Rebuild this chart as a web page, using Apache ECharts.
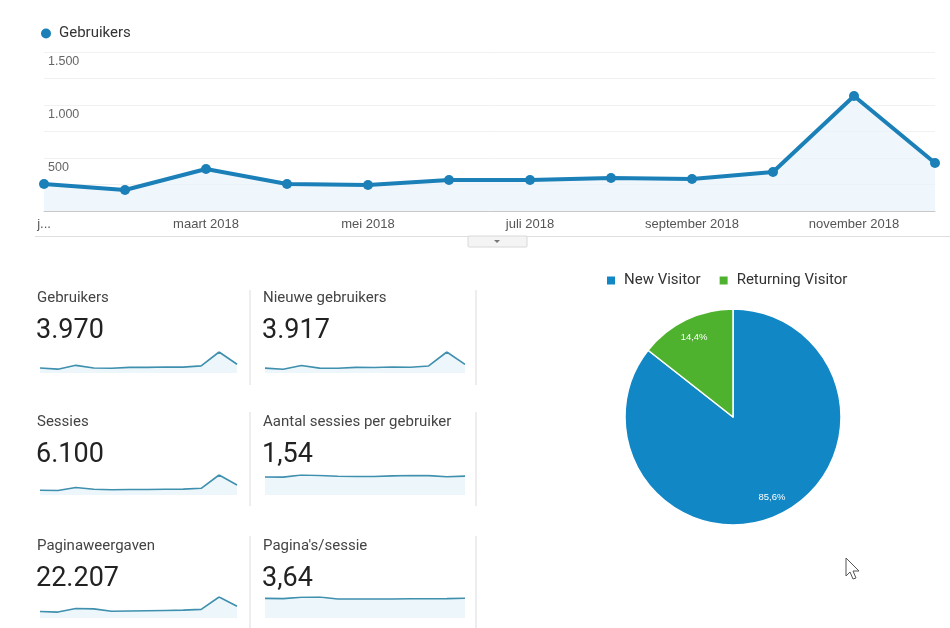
<!DOCTYPE html>
<html>
<head>
<meta charset="utf-8">
<script src="https://cdn.jsdelivr.net/npm/echarts@6/dist/echarts.min.js"></script>
<style>
html,body{margin:0;padding:0;background:#fff;}
#c{width:950px;height:628px;}
</style>
</head>
<body>
<div id="c"></div>
<script>
// ---- data ----
const months = ['jan 2018','feb 2018','maart 2018','april 2018','mei 2018','juni 2018','juli 2018','aug 2018','september 2018','okt 2018','november 2018','dec 2018'];
const xTickLabels = ['j...','','maart 2018','','mei 2018','','juli 2018','','september 2018','','november 2018',''];
const yTicks = [500, 1000, 1500];
const gebruikers = [255, 198, 396, 255, 245, 292, 292, 311, 302, 368, 1085, 453];
const nieuweGebruikers = [250, 193, 388, 250, 241, 287, 286, 305, 296, 360, 1078, 443];
const sessies = [330, 320, 520, 400, 370, 390, 390, 400, 410, 470, 1400, 700];
const sessiesPerGebruiker = [1.46, 1.45, 1.62, 1.58, 1.52, 1.50, 1.50, 1.55, 1.58, 1.57, 1.48, 1.53];
const paginaweergaven = [1320, 1210, 1930, 1870, 1380, 1430, 1480, 1540, 1600, 1760, 4290, 2400];
const paginasPerSessie = [3.55, 3.50, 3.75, 3.80, 3.45, 3.45, 3.45, 3.45, 3.47, 3.47, 3.50, 3.58];
const cardTitles = ['Gebruikers','Nieuwe gebruikers','Sessies','Aantal sessies per gebruiker','Paginaweergaven',"Pagina's/sessie"];
const cardValues = ['3.970','3.917','6.100','1,54','22.207','3,64'];
const visitorTypes = ['New Visitor','Returning Visitor'];
const visitorShares = [85.6, 14.4];

// ---- layout ----
const sparkData = [gebruikers, nieuweGebruikers, sessies, sessiesPerGebruiker, paginaweergaven, paginasPerSessie];
const colLeft = [37, 263];
const sparkLeft = [40, 265];
const sparkWidth = [197, 200];
const rowTitleTop = [291, 415, 539];
const rowValueTop = [318, 442, 566];
const sparkTop = [352, 475, 597];
const sparkH = [21, 20, 21];

const blue = '#1b7fb8';
const fmtNum = v => String(v).replace(/\B(?=(\d{3})+(?!\d))/g, '.');

const chart = echarts.init(document.getElementById('c'));

const grids = [{left: 44, right: 15, top: 52, height: 159}];
const xAxes = [{
  gridIndex: 0, type: 'category', data: months, boundaryGap: false,
  axisLine: {show: true, lineStyle: {color: '#c8c8c8'}},
  axisTick: {show: false},
  axisLabel: {interval: 0, margin: 7, fontSize: 13, color: '#555', fontFamily: 'Liberation Sans, Arial',
    formatter: (v, i) => xTickLabels[i]}
}];
const yAxes = [{
  gridIndex: 0, type: 'value', min: 0, max: 1500, interval: 250,
  axisLine: {show: false}, axisTick: {show: false},
  splitLine: {lineStyle: {color: '#f1f1f1'}},
  axisLabel: {inside: true, margin: 4, fontSize: 12.5, color: '#666', verticalAlign: 'top', padding: [3,0,0,0],
    fontFamily: 'Liberation Sans, Arial',
    formatter: v => yTicks.indexOf(v) >= 0 ? fmtNum(v) : ''}
}];
const series = [{
  name: 'Gebruikers', type: 'line', xAxisIndex: 0, yAxisIndex: 0, data: gebruikers,
  symbol: 'circle', symbolSize: 10, lineStyle: {width: 4, color: blue},
  itemStyle: {color: blue}, areaStyle: {color: '#e9f4fb'}, silent: true
}];
const titles = [];
const graphics = [];

for (let i = 0; i < 6; i++) {
  const row = Math.floor(i / 2), col = i % 2;
  const gi = i + 1;
  grids.push({left: sparkLeft[col], width: sparkWidth[col], top: sparkTop[row], height: sparkH[row]});
  xAxes.push({gridIndex: gi, type: 'category', data: months, boundaryGap: false, show: false});
  yAxes.push({gridIndex: gi, type: 'value', min: 0, max: 'dataMax', show: false, splitLine: {show: false}});
  series.push({
    name: cardTitles[i] + ' ', type: 'line', xAxisIndex: gi, yAxisIndex: gi, data: sparkData[i],
    symbol: 'none', lineStyle: {width: 1.6, color: '#3f8fae'}, areaStyle: {color: '#e6f3fa'}, silent: true
  });
  titles.push({text: cardTitles[i], left: colLeft[col], top: rowTitleTop[row], padding: 0,
    textStyle: {fontSize: 15, fontWeight: 'normal', color: '#444', fontFamily: 'Roboto'}});
  titles.push({text: cardValues[i], left: colLeft[col] - 1, top: rowValueTop[row], padding: 0,
    textStyle: {fontSize: 27, fontWeight: 'normal', color: '#222', fontFamily: 'Roboto'}});
}

// separators
const sepRanges = [[290, 385], [412, 506], [536, 628]];
sepRanges.forEach(r => {
  [250, 476].forEach(x => graphics.push({type: 'line', shape: {x1: x, y1: r[0], x2: x, y2: r[1]},
    style: {stroke: '#dcdcdc', lineWidth: 1}, silent: true}));
});
graphics.push({type: 'line', shape: {x1: 35, y1: 236.5, x2: 950, y2: 236.5}, style: {stroke: '#dedede', lineWidth: 1}, silent: true});
graphics.push({type: 'rect', shape: {x: 468, y: 236, width: 59, height: 11, r: 1}, style: {fill: '#f4f4f4', stroke: '#d8d8d8', lineWidth: 1}, silent: true});
graphics.push({type: 'polygon', shape: {points: [[494, 240], [500, 240], [497, 243]]}, style: {fill: '#777'}, silent: true});
// cursor
graphics.push({type: 'polygon', shape: {points: [[846,558],[846,576],[850,572],[853,579],[856,578],[853,571],[859,571]]},
  style: {fill: '#fff', stroke: '#555', lineWidth: 1}, silent: true});

// pie
const pieColors = ['#1187c6', '#4fb22f'];
const pieData = visitorTypes.map((n, i) => ({name: n, value: visitorShares[i], itemStyle: {color: pieColors[i]}}));
series.push({
  name: 'Visitor Type', type: 'pie', center: [733, 417], radius: [0, 108], startAngle: 90, clockwise: true,
  data: pieData, label: {show: false}, labelLine: {show: false}, silent: true,
  itemStyle: {borderColor: '#fff', borderWidth: 1.5}
});
series.push({
  name: 'Visitor Type labels', type: 'pie', center: [733, 417], radius: [0, 172], startAngle: 90, clockwise: true,
  data: visitorTypes.map((n, i) => ({name: n, value: visitorShares[i], itemStyle: {color: 'rgba(0,0,0,0)'}})),
  label: {show: true, position: 'inside', color: '#fff', fontSize: 9.5, fontFamily: 'Liberation Sans, Arial',
    formatter: p => p.value.toFixed(1).replace('.', ',') + '%'},
  labelLine: {show: false}, silent: true, emphasis: {disabled: true}
});

chart.setOption({
  animation: false,
  title: titles,
  legend: [
    {data: ['Gebruikers'], left: 36, top: 21, icon: 'circle', itemWidth: 10, itemHeight: 10, itemGap: 10,
      textStyle: {fontSize: 15, color: '#333', fontFamily: 'Roboto', padding: [0,0,0,3]}, selectedMode: false},
    {data: visitorTypes, left: 600, top: 268, icon: 'rect', itemWidth: 10, itemHeight: 10, itemGap: 17,
      textStyle: {fontSize: 15, color: '#333', fontFamily: 'Roboto', padding: [0,0,0,3]}, selectedMode: false}
  ],
  grid: grids,
  xAxis: xAxes,
  yAxis: yAxes,
  series: series,
  graphic: graphics
});
</script>
</body>
</html>
